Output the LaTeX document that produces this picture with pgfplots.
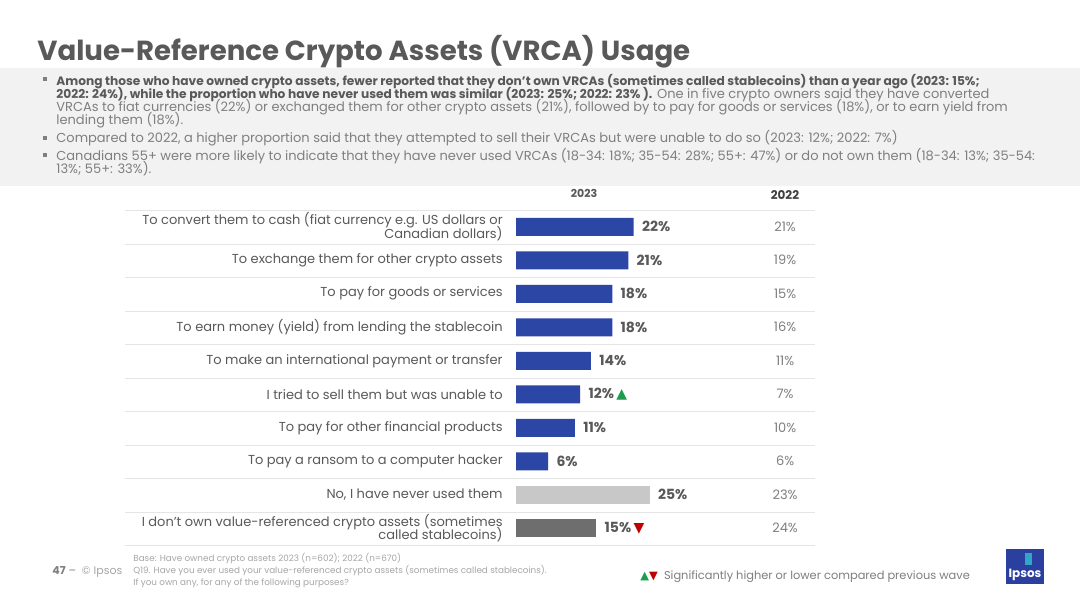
\documentclass[border=0pt]{standalone}
\usepackage{fontspec}
\setmainfont{Poppins}
\newfontfamily\sym{DejaVu Sans}
\usepackage{pgfplots}
\pgfplotsset{compat=1.18}
\definecolor{txt}{HTML}{595959}
\definecolor{lt}{HTML}{7F7F7F}
\definecolor{foot}{HTML}{A6A6A6}
\definecolor{barblue}{HTML}{2C46A6}
\definecolor{barlgray}{HTML}{C8C8C8}
\definecolor{bardgray}{HTML}{6E6E6E}
\definecolor{boxgray}{HTML}{F2F2F2}
\definecolor{upg}{HTML}{1E9B4E}
\definecolor{dnr}{HTML}{C00000}
\definecolor{ipsosblue}{HTML}{2B3F9E}
\definecolor{ipsosteal}{HTML}{2FA8C8}
\newcommand\bl{\fontsize{6.5}{7}\selectfont}
\newcommand\bb{\fontsize{6.1}{7}\selectfont\bfseries\color{txt}}
\newcommand\cat{\fontsize{6.5}{6.5}\selectfont}
\begin{document}
\begin{tikzpicture}
\begin{scope}[x=0.5pt,y=-0.5pt]
\path[use as bounding box] (0,0) rectangle (1080,607);
\fill[white] (0,0) rectangle (1080,607);
\node[anchor=base west, font=\fontsize{13.8}{15}\selectfont\bfseries, text=txt, inner sep=0] at (37,60) {Value-Reference Crypto Assets (VRCA) Usage};
\fill[boxgray] (0,68) rectangle (1080,186);
\foreach \yy in {81,140,157} \fill[lt] (43,\yy) rectangle (47,{\yy-4});
\begin{scope}[every node/.style={anchor=base west, inner sep=0, font=\bl, text=lt}]
\node at (56,85) {\bb Among those who have owned crypto assets, fewer reported that they don’t own VRCAs (sometimes called stablecoins) than a year ago (2023: 15\%;};
\node at (56,98) {{\bb 2022: 24\%), while the proportion who have never used them was similar (2023: 25\%; 2022: 23\% ).} One in five crypto owners said they have converted};
\node at (56,111) {VRCAs to fiat currencies (22\%) or exchanged them for other crypto assets (21\%), followed by to pay for goods or services (18\%), or to earn yield from};
\node at (56,124) {lending them (18\%).};
\node at (56,142) {Compared to 2022, a higher proportion said that they attempted to sell their VRCAs but were unable to do so (2023: 12\%; 2022: 7\%)};
\node at (56,160) {Canadians 55+ were more likely to indicate that they have never used VRCAs (18-34: 18\%; 35-54: 28\%; 55+: 47\%) or do not own them (18-34: 13\%; 35-54:};
\node at (56,173) {13\%; 55+: 33\%).};
\end{scope}
\foreach \k in {0,...,10} \draw[black!10, line width=0.5pt] (125,{210.5+33.5*\k}) -- (815,{210.5+33.5*\k});
\node[font=\fontsize{5.5}{6}\selectfont\bfseries, text=txt, inner sep=0] at (584,193) {2023};
\node[font=\fontsize{6}{6}\selectfont\bfseries, text=black!75, inner sep=0] at (785,195) {2022};
% footer
\node[anchor=base west, inner sep=0, font=\fontsize{5.5}{6}\selectfont, text=lt] at (52,574) {\textbf{47} – \ \color{foot}© Ipsos};
\begin{scope}[every node/.style={anchor=base west, inner sep=0, font=\fontsize{4.4}{5}\selectfont, text=foot}]
\node at (133,561) {Base: Have owned crypto assets 2023 (n=602); 2022 (n=670)};
\node at (133,573) {Q19. Have you ever used your value-referenced crypto assets (sometimes called stablecoins).};
\node at (133,585) {If you own any, for any of the following purposes?};
\end{scope}
\node[anchor=base west, inner sep=0, font=\fontsize{5.7}{6}\selectfont, text=lt] at (640,579) {{\sym\color{upg}▲}{\sym\color{dnr}▼}\ \ Significantly higher or lower compared previous wave};
\fill[ipsosblue] (1006,549) rectangle (1044,584);
\fill[ipsosteal] (1025,553) rectangle (1032,565);
\node[font=\fontsize{6}{6}\selectfont\bfseries, text=white, inner sep=0] at (1025,575) {Ipsos};
\end{scope}
\begin{axis}[
 at={(258pt,-272.5pt)}, anchor=south west,
 scale only axis, width=107pt, height=167.5pt,
 xmin=0, xmax=40, ymin=0.5, ymax=10.5,
 axis line style={draw=none}, xtick=\empty,
 ytick={1,...,10},
 yticklabels={{I don’t own value-referenced crypto assets (sometimes\\[-2pt]called stablecoins)},
 {No, I have never used them},
 {To pay a ransom to a computer hacker},
 {To pay for other financial products},
 {I tried to sell them but was unable to},
 {To make an international payment or transfer},
 {To earn money (yield) from lending the stablecoin},
 {To pay for goods or services},
 {To exchange them for other crypto assets},
 {To convert them to cash (fiat currency e.g. US dollars or\\[-2pt]Canadian dollars)}},
 major tick length=0pt,
 yticklabel style={align=right, font=\cat, text=txt, inner sep=0pt, xshift=-6.5pt},
 clip=false,
 point meta=explicit symbolic,
]
\addplot[xbar, bar width=9pt, fill=barblue, draw=none, bar shift=0pt, nodes near coords,
 nodes near coords style={anchor=west, inner sep=0pt, xshift=4pt, font=\fontsize{7}{7}\selectfont\bfseries, text=txt}]
 coordinates {(22,10)[22\%] (21,9)[21\%] (18,8)[18\%] (18,7)[18\%] (14,6)[14\%] (12,5)[12\%\,{\sym\color{upg}▲}] (11,4)[11\%] (6,3)[6\%]};
\addplot[xbar, bar width=9pt, fill=barlgray, draw=none, bar shift=0pt, nodes near coords,
 nodes near coords style={anchor=west, inner sep=0pt, xshift=4pt, font=\fontsize{7}{7}\selectfont\bfseries, text=txt}]
 coordinates {(25,2)[25\%]};
\addplot[xbar, bar width=9pt, fill=bardgray, draw=none, bar shift=0pt, nodes near coords,
 nodes near coords style={anchor=west, inner sep=0pt, xshift=4pt, font=\fontsize{7}{7}\selectfont\bfseries, text=txt}]
 coordinates {(15,1)[15\%\,{\sym\color{dnr}▼}]};
\addplot[draw=none, mark=none, nodes near coords,
 nodes near coords style={anchor=center, inner sep=0pt, font=\fontsize{6.5}{7}\selectfont, text=lt}]
 coordinates {(50.3,10)[21\%] (50.3,9)[19\%] (50.3,8)[15\%] (50.3,7)[16\%] (50.3,6)[11\%] (50.3,5)[7\%] (50.3,4)[10\%] (50.3,3)[6\%] (50.3,2)[23\%] (50.3,1)[24\%]};
\end{axis}
\end{tikzpicture}
\end{document}
